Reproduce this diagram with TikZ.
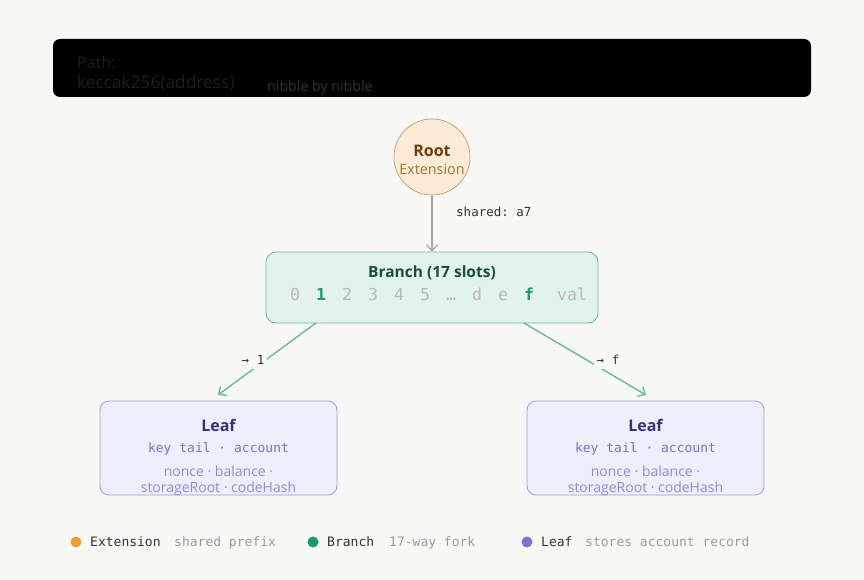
\documentclass[tikz,border=0pt]{standalone}
\usepackage{fontspec}
\setmainfont{Open Sans}
\setsansfont{Open Sans}
\setmonofont{DejaVu Sans Mono}
\usetikzlibrary{arrows.meta}
\definecolor{bg}{HTML}{F8F8F6}
\definecolor{extfill}{HTML}{FCEBD6}
\definecolor{extstroke}{HTML}{C49A62}
\definecolor{extdark}{HTML}{6B3F10}
\definecolor{extlight}{HTML}{A5702E}
\definecolor{brfill}{HTML}{E1F3EC}
\definecolor{brstroke}{HTML}{6DB89A}
\definecolor{brdark}{HTML}{174D3E}
\definecolor{brgreen}{HTML}{1A9A70}
\definecolor{slotgray}{HTML}{B8B8B8}
\definecolor{edgegreen}{HTML}{5CB898}
\definecolor{lffill}{HTML}{EEEEFC}
\definecolor{lfstroke}{HTML}{A098E0}
\definecolor{lfdark}{HTML}{36307E}
\definecolor{lfmid}{HTML}{7A70D0}
\definecolor{lflight}{HTML}{9088E0}
\definecolor{txt}{HTML}{333333}
\definecolor{muted}{HTML}{9A9A9A}
\tikzset{
  x=1pt,y=-1pt,
  leafbox/.style={draw=lfstroke,fill=lffill,rounded corners=9pt,line width=0.8pt,minimum width=237pt,minimum height=94pt},
  edge/.style={draw=edgegreen,line width=1.3pt,-{Straight Barb[length=6pt,width=11pt]}},
  elabel/.style={fill=bg,font=\ttfamily\fontsize{12.5}{14}\selectfont,text=txt,inner xsep=3pt,inner ysep=4pt},
  slot/.style={font=\ttfamily\fontsize{16.5}{18}\selectfont,text=slotgray,anchor=base},
  slothi/.style={font=\ttfamily\bfseries\fontsize{16.5}{18}\selectfont,text=brgreen,anchor=base},
  legtxt/.style={font=\ttfamily\fontsize{13}{15}\selectfont,text=txt,anchor=base west,inner sep=0},
  legmut/.style={font=\ttfamily\fontsize{13}{15}\selectfont,text=muted,anchor=base west,inner sep=0},
}
\begin{document}
\begin{tikzpicture}
\fill[bg] (0,0) rectangle (864,580);
\useasboundingbox (0,0) rectangle (864,580);
% banner
\fill[black,rounded corners=7pt] (53,39) rectangle (811,97);
\node[anchor=base west,inner sep=0,text=black!88!white,font=\fontsize{16}{17}\selectfont] (p1) at (77,69) {Path:};
\node[anchor=base west,inner sep=0,text=black!88!white,font=\fontsize{17.3}{18}\selectfont] (p2) at (77,89) {keccak256(address)};
\node[anchor=base west,inner sep=0,text=black!80!white,font=\fontsize{14.2}{15}\selectfont] (p3) at (267,92) {nibble by nibble};
% root
\node[circle,draw=extstroke,fill=extfill,line width=0.7pt,minimum size=76pt,inner sep=0] (root) at (432,157) {};
\node[font=\bfseries\fontsize{16}{17}\selectfont,text=extdark,anchor=base] (rt) at (432,157) {Root};
\node[font=\fontsize{14.3}{15}\selectfont,text=extlight,anchor=base] (rx) at (432,175) {Extension};
% branch
\node[draw=brstroke,fill=brfill,rounded corners=10pt,line width=0.8pt,minimum width=332pt,minimum height=71pt] (branch) at (432,287.5) {};
\node[font=\fontsize{15.5}{17}\selectfont\bfseries,text=brdark,anchor=base] (bt) at (432,277) {Branch (17 slots)};
\node[slot] (s0) at (295,300) {0};
\node[slothi] (s1) at (321,300) {1};
\node[slot] (s2) at (347,300) {2};
\node[slot] (s3) at (373,300) {3};
\node[slot] (s4) at (399,300) {4};
\node[slot] (s5) at (425,300) {5};
\node[slot] (s6) at (451,300) {…};
\node[slot] (sd) at (477,300) {d};
\node[slot] (se) at (503,300) {e};
\node[slothi] (sf) at (529,300) {f};
\node[slot] (sv) at (572,300) {val};
% root -> branch
\draw[draw=black!35,line width=1.2pt,-{Straight Barb[length=6pt,width=11pt]}] (root.south) -- (branch.north);
\node[font=\ttfamily\fontsize{12.5}{14}\selectfont,text=txt,anchor=base west,inner sep=0] (sh) at (456,216) {shared: a7};
% leaves
\node[leafbox] (l1) at (218.5,448) {};
\node[leafbox] (l2) at (645.5,448) {};
\foreach \n/\cx in {l1/218.5,l2/645.5}{
  \node[font=\fontsize{16}{17}\selectfont\bfseries,text=lfdark,anchor=base] (\n t) at (\cx,431) {Leaf};
  \node[font=\ttfamily\fontsize{13}{14}\selectfont,text=lfmid,anchor=base] (\n k) at (\cx,452.5) {key tail · account};
  \node[font=\fontsize{14}{15}\selectfont,text=lflight,anchor=base] (\n a) at (\cx,476) {nonce · balance ·};
  \node[font=\fontsize{14}{15}\selectfont,text=lflight,anchor=base] (\n b) at (\cx,492) {storageRoot · codeHash};
}
% edges
\coordinate (b1) at (316,323);
\coordinate (b2) at (524,323);
\coordinate (t1) at (218,395);
\coordinate (t2) at (646,395);
\draw[edge] (b1) -- (t1);
\draw[edge] (b2) -- (t2);
\node[elabel] (e1) at (253,360) {→ 1};
\node[elabel] (e2) at (608,360) {→ f};
% legend
\fill[color={rgb,255:red,240;green,160;blue,48}] (76,542) circle (5.5pt);
\node[legtxt] (lg1) at (90,546.5) {Extension};
\node[legmut] (lg1m) at (174,546.5) {shared prefix};
\fill[brgreen] (313,542) circle (5.5pt);
\node[legtxt] (lg2) at (327,546.5) {Branch};
\node[legmut] (lg2m) at (389,546.5) {17-way fork};
\fill[color={rgb,255:red,128;green,112;blue,216}] (527,542) circle (5.5pt);
\node[legtxt] (lg3) at (541,546.5) {Leaf};
\node[legmut] (lg3m) at (585,546.5) {stores account record};
\end{tikzpicture}
\end{document}
